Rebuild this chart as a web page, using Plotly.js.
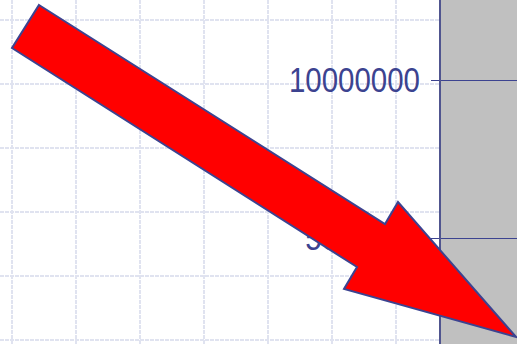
<!DOCTYPE html>
<html>
<head>
<meta charset="utf-8">
<script src="https://cdn.plot.ly/plotly-3.0.1.min.js"></script>
<style>html,body{margin:0;padding:0;background:#fff;}#chart{width:517px;height:344px;}</style>
</head>
<body>
<div id="chart"></div>
<script>
// Visible y-axis ticks of the (cropped) chart
const yTickVals = [5000000, 10000000];
const yTickText = ['5000000', '10000000'];
// Visible value window of the cropped plot area
const yRange = [1645570, 12531646];
// Background graph-paper grid (pixel units)
const paperRangeX = [0, 441];
const paperRangeY = [344, 0];

const W = 517, H = 344;
const ink = '#3c4390';
const narrow = 0.842; // horizontal compression of the tick labels (narrow face)

// Decorative red arrow outline (pixel coordinates, converted to paper)
const arrowPx = [[39,5],[385,224],[398,202],[516,337],[344,289],[357,267],[12,48]];
const arrowPath = 'M ' + arrowPx.map(p => (p[0]/W).toFixed(5) + ',' + (1 - p[1]/H).toFixed(5)).join(' L ') + ' Z';

const data = [
  {type:'scatter', x:[], y:[], xaxis:'x', yaxis:'y', showlegend:false, hoverinfo:'skip'},
  {type:'bar', x:[], y:[], xaxis:'x2', yaxis:'y2', showlegend:false, hoverinfo:'skip'}
];

const gridCol = '#e0e3f0';

const layout = {
  width: W, height: H,
  margin: {l:0, r:0, t:0, b:0, pad:0},
  paper_bgcolor: '#ffffff',
  plot_bgcolor: 'rgba(0,0,0,0)',
  showlegend: false,
  xaxis: {
    domain: [0, 441/W], range: paperRangeX, tick0: 12, dtick: 64,
    showgrid: true, gridcolor: gridCol, gridwidth: 2, griddash: '4px,1px',
    zeroline: false, showticklabels: false, ticks: '', showline: false, fixedrange: true
  },
  yaxis: {
    domain: [0, 1], range: paperRangeY, tick0: 20, dtick: 64,
    showgrid: true, gridcolor: gridCol, gridwidth: 2, griddash: '4px,1px',
    zeroline: false, showticklabels: false, ticks: '', showline: false, fixedrange: true
  },
  xaxis2: {
    domain: [441/W, 1], anchor: 'y2', range: [0, 1],
    showgrid: false, zeroline: false, showticklabels: false, ticks: '', showline: false
  },
  yaxis2: {
    domain: [0, 1], anchor: 'x2', range: yRange,
    tickmode: 'array', tickvals: yTickVals, ticktext: yTickText,
    showgrid: true, gridcolor: ink, gridwidth: 1,
    zeroline: false, showline: true, linecolor: '#50558f', linewidth: 2,
    ticks: 'outside', ticklen: 8, tickcolor: ink, tickwidth: 1,
    ticklabelstandoff: 4,
    tickfont: {family: '"Liberation Sans", Arial, sans-serif', size: 35, color: ink}
  },
  shapes: [
    {type:'rect', xref:'x2 domain', yref:'y2 domain', x0:0, x1:1, y0:0, y1:1,
     fillcolor:'#c0c0c0', line:{width:0}, layer:'below'},
    {type:'path', xref:'paper', yref:'paper', path: arrowPath,
     fillcolor:'#ff0000', line:{color:'#3c4390', width:2}, layer:'above'}
  ]
};

Plotly.newPlot('chart', data, layout, {staticPlot:true, displayModeBar:false}).then(function(gd){
  // emulate the narrow typeface: compress tick labels horizontally, keeping right edge fixed
  gd.querySelectorAll('.y2tick text').forEach(function(t){
    const bb = t.getBBox();
    const xr = bb.x + bb.width;
    const prev = t.getAttribute('transform') || '';
    t.setAttribute('transform', prev + ' translate(' + (xr*(1-narrow)).toFixed(2) + ',0) scale(' + narrow + ',1)');
  });
});
</script>
</body>
</html>
